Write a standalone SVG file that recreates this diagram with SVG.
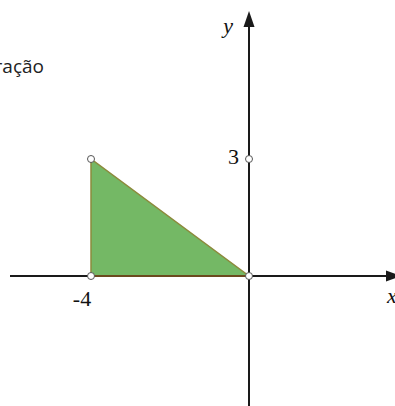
<svg xmlns="http://www.w3.org/2000/svg" width="395" height="406" viewBox="0 0 395 406">
<style>
.axis{stroke:#1a1a1a;stroke-width:2;fill:none}
.pt{fill:#fff;stroke:#555;stroke-width:1}
.lbl{font-family:"Liberation Serif",serif;font-size:22px;fill:#111}
</style>
<rect width="395" height="406" fill="#fff"/>
<text x="44" y="73" text-anchor="end" font-family="Open Sans, sans-serif" font-size="19" fill="#222">ração</text>
<g id="connectors">
<line class="axis" x1="10" y1="276" x2="388" y2="276"/>
<polygon points="386,270.5 401,276 386,281.5" fill="#1a1a1a"/>
<line class="axis" x1="249" y1="406" x2="249" y2="24"/>
<polygon points="243.5,27 249,11 254.5,27" fill="#1a1a1a"/>
</g>
<g id="triangle">
<polygon points="91,159 91,276 249,276" fill="#74b865" stroke="#8c8a3c" stroke-width="1.5"/>
<line x1="91" y1="276" x2="249" y2="276" stroke="#6b4a1e" stroke-width="2"/>
</g>
<g id="labels">
<text class="lbl" x="233" y="33" text-anchor="end" font-style="italic">y</text>
<text class="lbl" x="239" y="164" text-anchor="end">3</text>
<text class="lbl" x="82" y="306" text-anchor="middle">-4</text>
<text class="lbl" x="387" y="303" font-style="italic">x</text>
</g>
<g id="points">
<circle class="pt" cx="91" cy="159" r="3.5"/>
<circle class="pt" cx="91" cy="276" r="3.5"/>
<circle class="pt" cx="249" cy="276" r="3.5"/>
<circle class="pt" cx="249" cy="159" r="3.5"/>
</g>
</svg>
